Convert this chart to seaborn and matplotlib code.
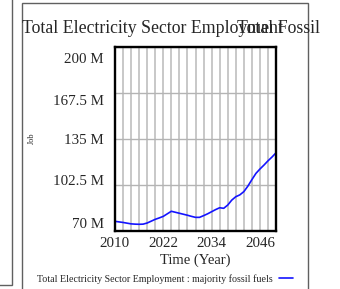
import seaborn as sns
import pandas as pd
import matplotlib.pyplot as plt
from matplotlib.patches import Rectangle

years = list(range(2010, 2051))
employment_m = [76.5, 76.1, 75.7, 75.2, 74.7, 74.5, 74.4, 74.5, 75.3, 76.6,
                77.9, 78.9, 80.0, 81.8, 83.6, 82.9, 82.2, 81.5, 80.8, 80.0,
                79.3, 79.3, 80.5, 81.8, 83.3, 84.8, 86.1, 85.7, 88.0, 91.5,
                93.9, 95.2, 97.5, 101.4, 106.0, 110.4, 113.5, 116.3, 119.3, 122.0,
                125.0]
y_grid = [70, 102.5, 135, 167.5, 200]
# labels sit a little inside the grid lines in the original
y_label_pos = [75.5, 105.7, 134.5, 162.2, 191.7]
y_tick_labels = ['70 M', '102.5 M', '135 M', '167.5 M', '200 M']
x_ticks = [2010, 2022, 2034, 2046]
series_name = 'Total Electricity Sector Employment : majority fossil fuels'

df = pd.DataFrame({'year': years, 'jobs': employment_m})

sns.set_style('white')
plt.rcParams['font.family'] = ['Liberation Serif', 'DejaVu Serif']

fig = plt.figure(figsize=(3.4, 2.89), dpi=100)
ax = fig.add_axes([0.338, 0.2024, 0.474, 0.636])

sns.lineplot(x='year', y='jobs', data=df, ax=ax, color='#1414ff', linewidth=1.2, label=series_name)

ax.set_xlim(2010, 2050)
ax.set_ylim(70, 200)
ax.set_xticks(range(2010, 2051, 2), minor=True)
ax.set_xticks(x_ticks)
ax.set_xticklabels([str(t) for t in x_ticks], fontsize=10.8)
ax.set_yticks(y_grid, minor=True)
ax.set_yticks(y_label_pos)
ax.set_yticklabels(y_tick_labels, fontsize=10.8)
ax.tick_params(axis='both', which='both', length=0)
ax.tick_params(axis='y', pad=8)
ax.tick_params(axis='x', pad=5)
ax.grid(True, which='both', axis='x', color='#c8c8c8', linewidth=1.4)
ax.grid(False, which='major', axis='y')
ax.grid(True, which='minor', axis='y', color='#b4b4b4', linewidth=1.0)
ax.set_axisbelow(True)
for s in ax.spines.values():
    s.set_color('black')
    s.set_linewidth(1.7)

ax.set_xlabel('Time (Year)', fontsize=10.5, labelpad=2)
ax.set_ylabel('Job', fontsize=6, labelpad=12.5)

fig.text(0.064, 0.886, 'Total Electricity Sector Employment', fontsize=12.8, ha='left', va='baseline')
fig.text(0.697, 0.886, 'Total Fossil', fontsize=12.8, ha='left', va='baseline')

leg = ax.legend(loc='center', bbox_to_anchor=(0.485, 0.035), bbox_transform=fig.transFigure,
                frameon=False, markerfirst=False, fontsize=7.2, handlelength=1.4,
                handletextpad=0.6, borderpad=0, borderaxespad=0)

# panel frames
fig.patches.append(Rectangle((-0.01, 1 - 285 / 289), 0.01 + 11.5 / 340, 1.1, transform=fig.transFigure,
                             fill=False, edgecolor='#606060', linewidth=1.0))
fig.patches.append(Rectangle((21.7 / 340, -0.05), (308 - 21.7) / 340, 1.05 - 2.7 / 289, transform=fig.transFigure,
                             fill=False, edgecolor='#606060', linewidth=1.0))

plt.savefig('out.png', dpi=100)
